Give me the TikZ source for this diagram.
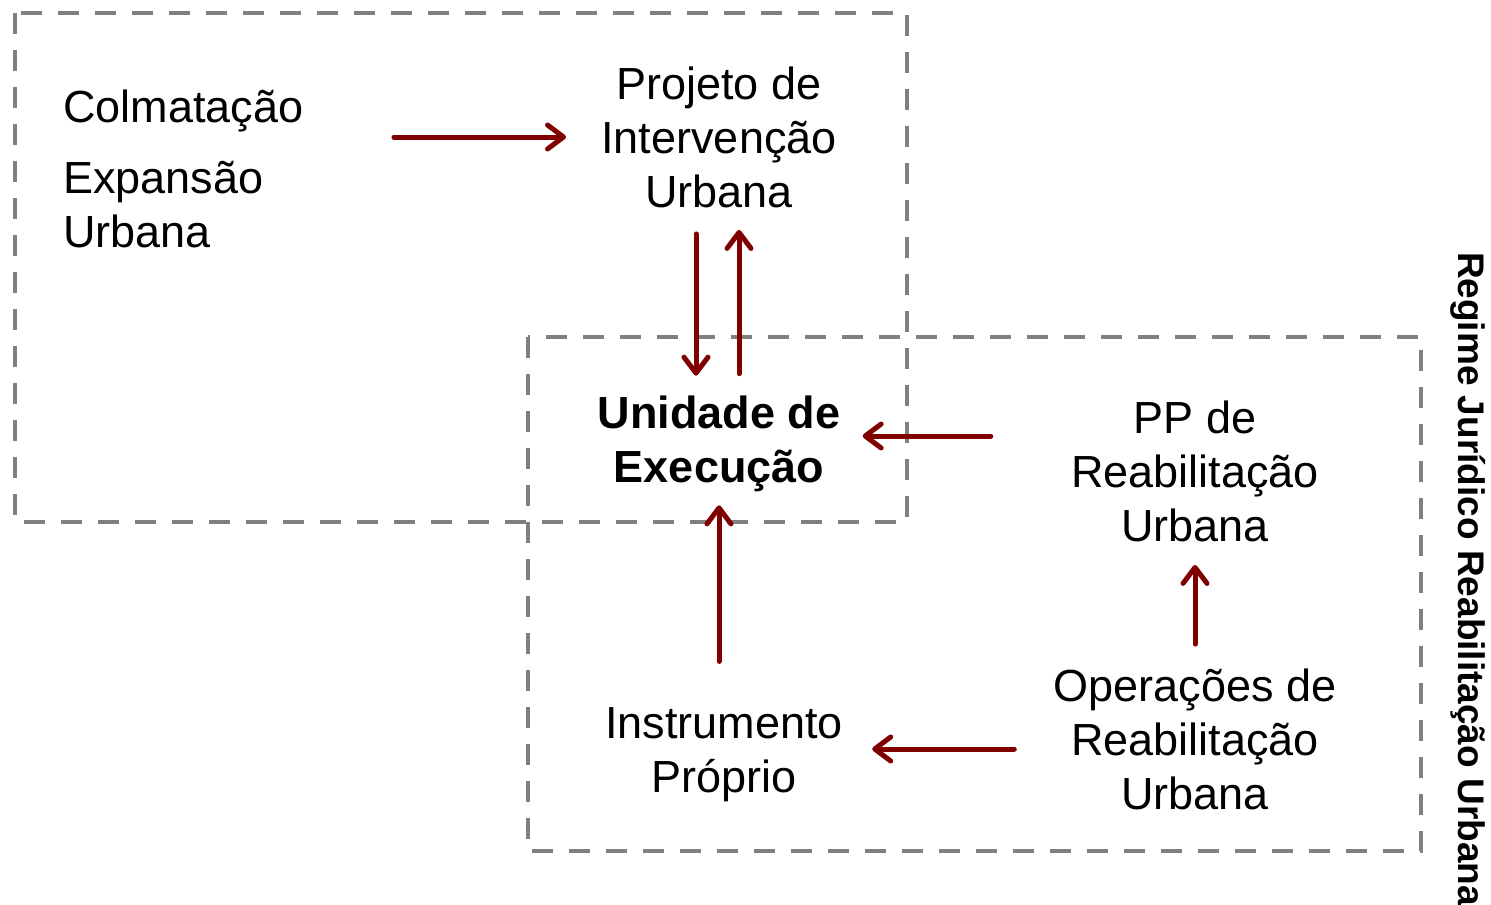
\documentclass[tikz,border=0pt]{standalone}
\usepackage{fontspec}
\setmainfont{Liberation Sans}
\usepackage{tikz}
\usetikzlibrary{arrows.meta}
\definecolor{setared}{RGB}{128,0,0}
\definecolor{caixagray}{RGB}{128,128,128}

\begin{document}
\begin{tikzpicture}[x=0.5pt,y=-0.5pt,
  txt/.style={inner sep=0pt,align=center,font=\fontsize{22.5}{27}\selectfont},
  caixa/.style={draw=caixagray,line width=2pt,dash pattern=on 10.5pt off 8pt},
  seta/.style={color=setared,line width=2.5pt,line cap=round,
    -{Straight Barb[length=8pt,width=12pt,line cap=round,line join=round]}}]
  \useasboundingbox (0,0) rectangle (1491,904);
  \draw[caixa] (15,13) rectangle (907,522);
  \draw[caixa] (528,337) rectangle (1421,851);
  \node[txt,anchor=west] (colm) at (63,111) {Colmatação};
  \node[txt,anchor=west,align=left] (exp) at (63,205) {Expansão\\Urbana};
  \node[txt] (proj) at (719,137) {Projeto de\\Intervenção\\Urbana};
  \node[txt,font=\fontsize{22.5}{27}\selectfont\bfseries] (ue) at (719,444) {Unidade de\\Execução};
  \node[txt] (pp) at (1195,471) {PP de\\Reabilitação\\Urbana};
  \node[txt] (ip) at (724,755) {Instrumento\\Próprio};
  \node[txt] (oru) at (1195,739) {Operações de\\Reabilitação\\Urbana};
  \node[inner sep=0pt,rotate=-90,anchor=base,font=\fontsize{18.5}{22}\selectfont\bfseries] (rjru) at (1458,579) {Regime Jurídico Reabilitação Urbana};
  \path[seta]
  (colm.east |- proj.west) edge[shorten <=45pt,shorten >=17.5pt] (proj.west)
  ([xshift=-11.5pt]proj.south) edge[shorten <=13pt,shorten >=10pt] ([xshift=-11.5pt]ue.north)
  ([xshift=10pt]ue.north) edge[shorten <=11pt,shorten >=11pt] ([xshift=10pt]proj.south)
  ([yshift=4pt]ue.east -| pp.west) edge[shorten <=40pt,shorten >=11pt] ([yshift=4pt]ue.east)
  (ip.north -| ue.south) edge[shorten <=23pt,shorten >=6.5pt] (ue.south)
  (oru.north) edge[shorten <=12pt,shorten >=11.5pt] (pp.south)
  ([yshift=3pt]ip.east -| oru.west) edge[shorten <=19.5pt,shorten >=14.5pt] ([yshift=3pt]ip.east)
  ;
\end{tikzpicture}
\end{document}
